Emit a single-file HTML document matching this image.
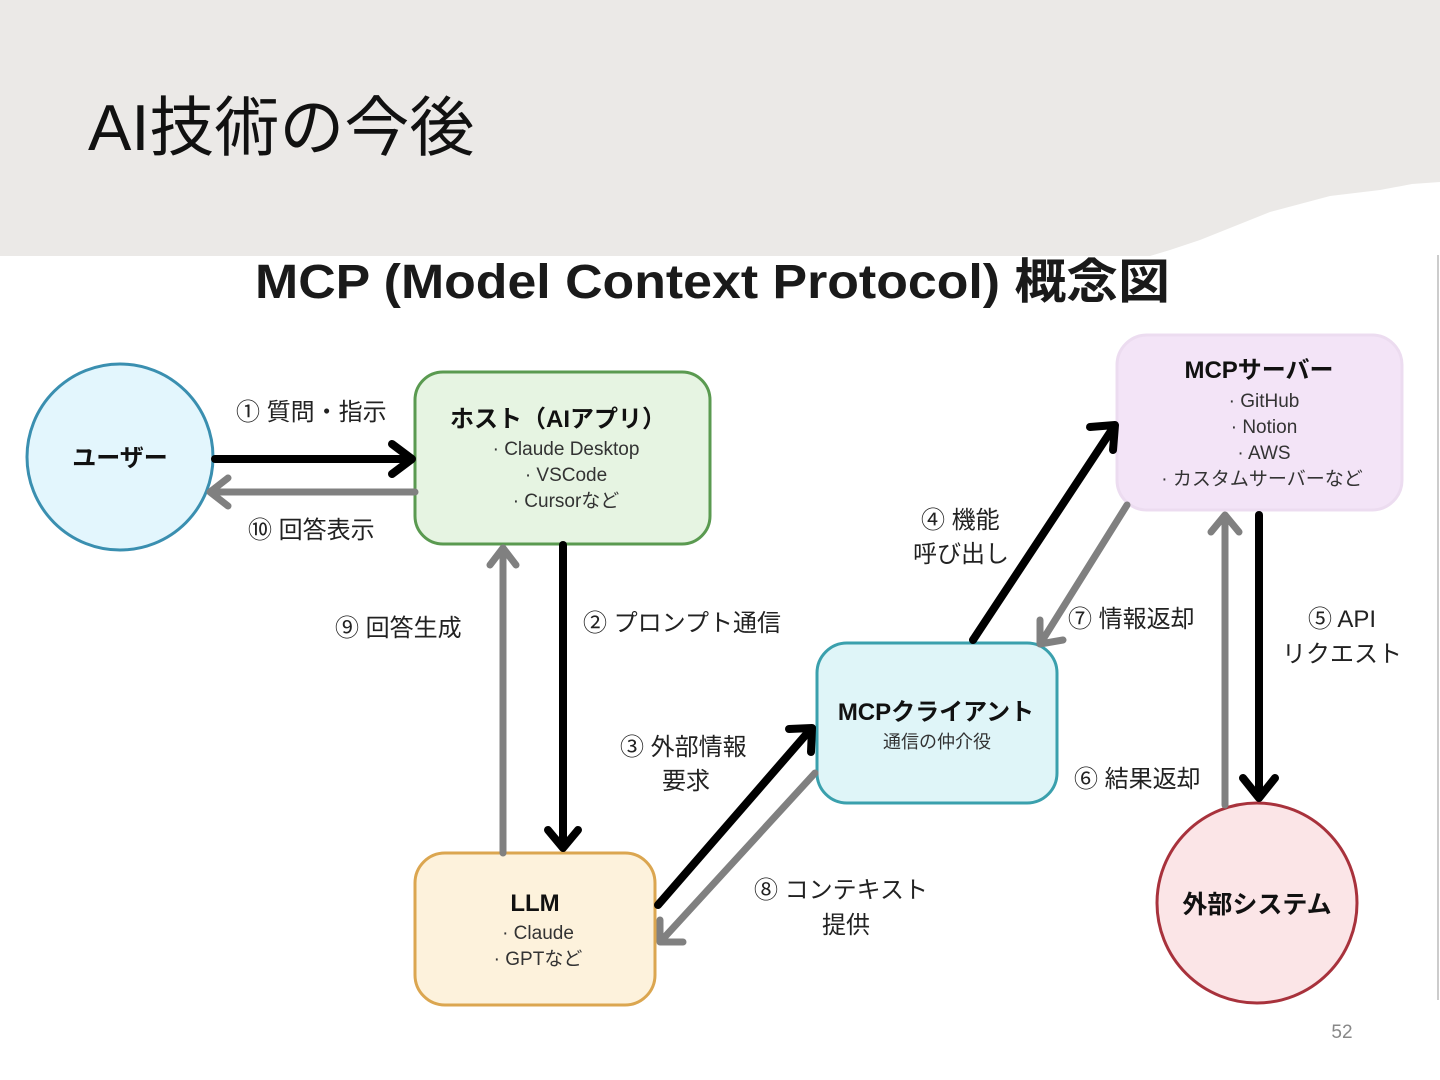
<!DOCTYPE html>
<html><head><meta charset="utf-8"><style>
html,body{margin:0;padding:0;background:#fff}
svg{display:block}
text{font-family:"Liberation Sans","Noto Sans CJK JP",sans-serif}
</style></head><body>
<svg width="1440" height="1080" viewBox="0 0 1440 1080" xmlns="http://www.w3.org/2000/svg">
<rect width="1440" height="1080" fill="#fff"/>
<polygon points="0,0 1440,0 1440,182 1412,184 1380,190 1330,196 1300,204 1270,212 1240,224 1200,240 1170,250 1150,256 0,256" fill="#ebe9e7"/>
<line x1="1438" y1="255" x2="1438" y2="1000" stroke="#ccc" stroke-width="2"/>
<text x="88" y="150" font-size="65" fill="#111">AI技術の今後</text>
<text x="255" y="298" font-size="48" font-weight="bold" fill="#1a1a1a" textLength="915" lengthAdjust="spacingAndGlyphs">MCP (Model Context Protocol) 概念図</text>

<g fill="none" stroke-linecap="round" stroke-linejoin="round">
<ellipse cx="120" cy="457" rx="93" ry="93" fill="#e3f6fd" stroke="#3a8fb0" stroke-width="3"/>
<rect x="415" y="372" width="295" height="172" rx="28" fill="#e6f4e2" stroke="#5a9a50" stroke-width="3"/>
<rect x="1117" y="335" width="285" height="175" rx="30" fill="#f3e4f7" stroke="#ecdcf0" stroke-width="3"/>
<rect x="817" y="643" width="240" height="160" rx="30" fill="#dff5f8" stroke="#3aa0ad" stroke-width="3"/>
<rect x="415" y="853" width="240" height="152" rx="30" fill="#fdf2dc" stroke="#dba650" stroke-width="3"/>
<circle cx="1257" cy="903" r="100" fill="#fbe5e7" stroke="#a8323c" stroke-width="3"/>

<g stroke="#000" stroke-width="8">
<line x1="215" y1="459" x2="410" y2="459"/><polyline points="392,444 412,459 392,474"/>
<line x1="563" y1="545" x2="563" y2="846"/><polyline points="548,830 563,848 578,830"/>
<line x1="658" y1="905" x2="810" y2="730"/><polyline points="789,729 812,728 811,752"/>
<line x1="973" y1="640" x2="1113" y2="428"/><polyline points="1090,427 1115,425 1113,450"/>
<line x1="1259" y1="515" x2="1259" y2="796"/><polyline points="1243,778 1259,798 1275,778"/>
</g>
<g stroke="#808080" stroke-width="7">
<line x1="415" y1="492" x2="212" y2="492"/><polyline points="228,478 210,492 228,506"/>
<line x1="503" y1="853" x2="503" y2="550"/><polyline points="490,565 503,548 516,565"/>
<line x1="815" y1="773" x2="662" y2="940"/><polyline points="660,920 660,942 683,942"/>
<line x1="1127" y1="505" x2="1042" y2="641"/><polyline points="1040,620 1040,644 1063,640"/>
<line x1="1225" y1="805" x2="1225" y2="517"/><polyline points="1211,532 1225,515 1239,532"/>
</g>
</g>

<g fill="#111" text-anchor="middle">
<text x="120" y="466" font-size="24" font-weight="bold">ユーザー</text>
<text x="558" y="427" font-size="24" font-weight="bold">ホスト（AIアプリ）</text>
<text x="566" y="455" font-size="19" fill="#333">· Claude Desktop</text>
<text x="566" y="481" font-size="19" fill="#333">· VSCode</text>
<text x="566" y="507" font-size="19" fill="#333">· Cursorなど</text>
<text x="1259" y="378" font-size="24" font-weight="bold">MCPサーバー</text>
<text x="1264" y="407" font-size="19" fill="#333">· GitHub</text>
<text x="1264" y="433" font-size="19" fill="#333">· Notion</text>
<text x="1264" y="459" font-size="19" fill="#333">· AWS</text>
<text x="1262" y="485" font-size="19" fill="#333">· カスタムサーバーなど</text>
<text x="936" y="720" font-size="24" font-weight="bold">MCPクライアント</text>
<text x="937" y="748" font-size="18" fill="#333">通信の仲介役</text>
<text x="535" y="911" font-size="24" font-weight="bold">LLM</text>
<text x="538" y="939" font-size="19" fill="#333">· Claude</text>
<text x="538" y="965" font-size="19" fill="#333">· GPTなど</text>
<text x="1257" y="913" font-size="25" font-weight="bold">外部システム</text>
</g>

<g fill="#222" font-size="24">
<text x="236" y="420">① 質問・指示</text>
<text x="248" y="538">⑩ 回答表示</text>
<text x="583" y="631">② プロンプト通信</text>
<text x="335" y="636">⑨ 回答生成</text>
<text x="620" y="755">③ 外部情報</text>
<text x="662" y="789">要求</text>
<text x="754" y="898">⑧ コンテキスト</text>
<text x="822" y="933">提供</text>
<text x="921" y="528">④ 機能</text>
<text x="913" y="562">呼び出し</text>
<text x="1068" y="627">⑦ 情報返却</text>
<text x="1308" y="627">⑤ API</text>
<text x="1282" y="662">リクエスト</text>
<text x="1074" y="787">⑥ 結果返却</text>
</g>
<text x="1342" y="1038" font-size="19" fill="#888" text-anchor="middle">52</text>
</svg>
</body></html>
